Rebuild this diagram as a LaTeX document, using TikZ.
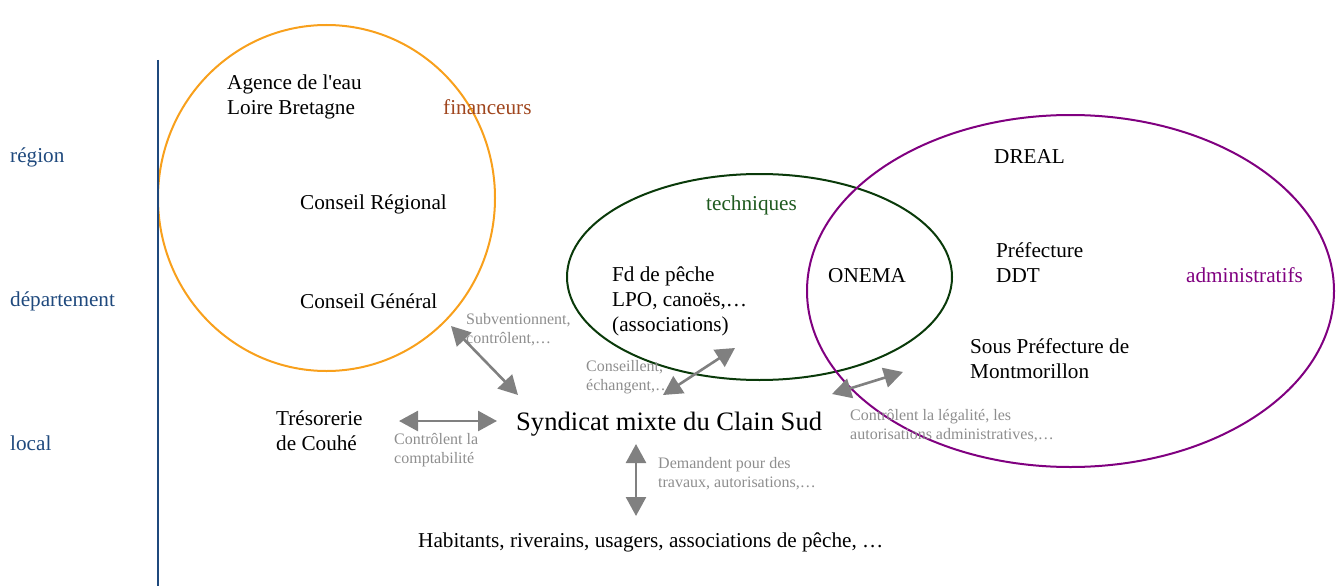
\documentclass[tikz,border=0pt]{standalone}
\usepackage{fontspec}
\setmainfont{Liberation Serif}
\usetikzlibrary{arrows.meta}
\definecolor{navy}{HTML}{1F497D}
\definecolor{orng}{HTML}{F8A01C}
\definecolor{dgreen}{HTML}{0A3A0A}
\definecolor{tgreen}{HTML}{1F5A1F}
\definecolor{purp}{HTML}{800080}
\definecolor{brwn}{HTML}{A0461E}
\definecolor{garrow}{HTML}{808080}
\definecolor{gtext}{HTML}{8E8E8E}
\tikzset{
  txt/.style={anchor=base west, inner sep=0pt, align=left, font=\fontsize{21.2}{25}\selectfont},
  big/.style={anchor=base west, inner sep=0pt, font=\fontsize{26.6}{30}\selectfont},
  lbl/.style={anchor=base west, inner sep=0pt, align=left, text=gtext, font=\fontsize{16}{19}\selectfont},
  lvl/.style={txt, text=navy},
  link/.style={draw=garrow, line width=2.6pt, {Triangle[length=19pt,width=20pt]}-{Triangle[length=19pt,width=20pt]}},
}
\begin{document}
\begin{tikzpicture}[x=1pt,y=-1pt]
\useasboundingbox (0,0) rectangle (1336,586);
% ellipses
\draw[orng, line width=2pt] (326.5,198) ellipse [x radius=168.5, y radius=173];
\draw[dgreen, line width=2pt] (759.5,277) ellipse [x radius=192.5, y radius=103];
\draw[purp, line width=2pt] (1070.5,291) ellipse [x radius=263.5, y radius=176];
% axis
\coordinate (axtop) at (158,60);
\coordinate (axbot) at (158,586);
\draw[navy, line width=2pt] (axtop) -- (axbot);
% levels
\node[lvl] (region) at (10,162) {région};
\node[lvl] (dept) at (10,306) {département};
\node[lvl] (local) at (10,450) {local};
% texts (base = last line)
\node[txt] (agence) at (227,114) {Agence de l\textquotesingle eau\\Loire Bretagne};
\node[txt, text=brwn] (fin) at (443,114) {financeurs};
\node[txt] (creg) at (300,209) {Conseil Régional};
\node[txt] (cgen) at (300,308) {Conseil Général};
\node[txt, text=tgreen] (tech) at (706,210) {techniques};
\node[txt] (fd) at (612,331) {Fd de pêche\\LPO, canoës,…\\(associations)};
\node[txt] (onema) at (828,282) {ONEMA};
\node[txt] (dreal) at (994,163) {DREAL};
\node[txt] (pref) at (996,282) {Préfecture\\DDT};
\node[txt, text=purp] (adm) at (1186,282) {administratifs};
\node[txt] (spref) at (970,378) {Sous Préfecture de\\Montmorillon};
\node[txt] (tres) at (276,450) {Trésorerie\\de Couhé};
\node[big] (synd) at (516,430) {Syndicat mixte du Clain Sud};
\node[txt] (hab) at (418,547) {Habitants, riverains, usagers, associations de pêche, …};
% gray labels
\node[lbl] (l1) at (466,343) {Subventionnent,\\contrôlent,…};
\node[lbl] (l2) at (586,390) {Conseillent,\\échangent,…};
\node[lbl] (l3) at (394,463) {Contrôlent la\\comptabilité};
\node[lbl] (l4) at (658,487) {Demandent pour des\\travaux, autorisations,…};
\node[lbl] (l5) at (850,439) {Contrôlent la légalité, les\\autorisations administratives,…};
% arrows
\coordinate (a1s) at (451,326); \coordinate (a1e) at (518,395);
\coordinate (a2s) at (399,421); \coordinate (a2e) at (497,421);
\coordinate (a3s) at (636,444); \coordinate (a3e) at (636,516);
\coordinate (a4s) at (663,395); \coordinate (a4e) at (735,348);
\coordinate (a5s) at (832,394); \coordinate (a5e) at (903,372);
\draw[link] (a1s) -- (a1e);
\draw[link] (a2s) -- (a2e);
\draw[link] (a3s) -- (a3e);
\draw[link] (a4s) -- (a4e);
\draw[link] (a5s) -- (a5e);
\end{tikzpicture}
\end{document}
